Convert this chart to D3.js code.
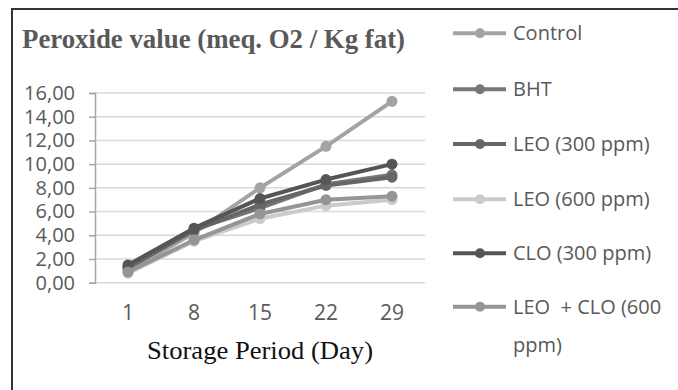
<!DOCTYPE html>
<html><head><meta charset="utf-8">
<script src="https://cdn.jsdelivr.net/npm/d3@7"></script>
<style>body{margin:0;background:#fff}svg{display:block}</style>
</head><body>
<svg id="c" width="678" height="390"></svg>
<script>
const days = ["1","8","15","22","29"];
const seriesNames = ["Control","BHT","LEO (300 ppm)","LEO (600 ppm)","CLO (300 ppm)","LEO  + CLO (600 ppm)"];
const control = [1.0, 4.2, 8.0, 11.5, 15.3];
const bht     = [1.2, 4.5, 6.3, 8.3, 9.1];
const leo300  = [1.3, 4.4, 6.6, 8.2, 8.9];
const leo600  = [0.8, 3.5, 5.4, 6.5, 7.0];
const clo300  = [1.5, 4.6, 7.1, 8.7, 10.0];
const leoclo  = [0.9, 3.6, 5.8, 7.0, 7.3];
const yTicks = [0,2,4,6,8,10,12,14,16];
const colors = ["#a3a3a3","#777777","#666666","#cbcbcb","#555555","#959595"];

const allSeries = [control,bht,leo300,leo600,clo300,leoclo];
const svg = d3.select("#c");

// border
svg.append("path").attr("d","M12,390V9H678").attr("fill","none").attr("stroke","#333").attr("stroke-width",2);

const x = d3.scaleBand().domain(days).range([95,425]);
const y = d3.scaleLinear().domain([0,16]).range([282.7,93]);

// gridlines
svg.append("g").selectAll("line").data(yTicks).join("line")
  .attr("x1",95).attr("x2",425).attr("y1",d=>y(d)).attr("y2",d=>y(d))
  .attr("stroke","#d9d9d9").attr("stroke-width",1.5);

// y axis
const yAxis = svg.append("g").attr("transform","translate(95,0)")
  .call(d3.axisLeft(y).tickValues(yTicks).tickSize(6).tickPadding(14)
    .tickFormat(d=>d3.format(".2f")(d).replace(".",",")));
yAxis.select(".domain").attr("stroke","#a6a6a6").attr("stroke-width",1.5);
yAxis.selectAll(".tick line").attr("stroke","#a6a6a6").attr("stroke-width",1.5);
yAxis.selectAll("text").attr("font-family","'Open Sans'").attr("font-size",20).attr("fill","#595959");

// x axis labels
const xAxis = svg.append("g").attr("transform","translate(0,283)")
  .call(d3.axisBottom(x).tickSize(0).tickPadding(22));
xAxis.select(".domain").remove();
xAxis.selectAll("text").attr("font-family","'Open Sans'").attr("font-size",21).attr("fill","#595959");

// lines
const line = d3.line().x((d,i)=>x(days[i])+x.bandwidth()/2).y(d=>y(d));
allSeries.forEach((s,k)=>{
  const g = svg.append("g");
  g.append("path").datum(s).attr("d",line).attr("fill","none")
    .attr("stroke",colors[k]).attr("stroke-width",4).attr("stroke-linejoin","round");
  g.selectAll("circle").data(s).join("circle")
    .attr("cx",(d,i)=>x(days[i])+x.bandwidth()/2).attr("cy",d=>y(d)).attr("r",5.5)
    .attr("fill",colors[k]);
});

// title
svg.append("text").attr("x",22).attr("y",48)
  .attr("font-family","'Liberation Serif'").attr("font-weight","bold").attr("font-size",28)
  .attr("fill","#595959").attr("textLength",383).attr("lengthAdjust","spacingAndGlyphs")
  .text("Peroxide value (meq. O2 / Kg fat)");

// x axis title
svg.append("text").attr("x",260).attr("y",359).attr("text-anchor","middle")
  .attr("font-family","'Liberation Serif'").attr("font-size",25).attr("fill","#111")
  .attr("textLength",226).attr("lengthAdjust","spacingAndGlyphs")
  .text("Storage Period (Day)");

// legend
const legY = [33.3,89.3,144,199.3,253.3,306.7];
seriesNames.forEach((n,k)=>{
  const g = svg.append("g");
  g.append("line").attr("x1",453).attr("x2",506).attr("y1",legY[k]).attr("y2",legY[k])
    .attr("stroke",colors[k]).attr("stroke-width",4);
  g.append("circle").attr("cx",480).attr("cy",legY[k]).attr("r",5).attr("fill",colors[k]);
  const t = g.append("text").attr("x",513).attr("y",legY[k]+7).style("white-space","pre")
    .attr("font-family","'Open Sans'").attr("font-size",20).attr("fill","#595959");
  if (k===5) {
    t.append("tspan").attr("x",513).text("LEO  + CLO (600");
    t.append("tspan").attr("x",513).attr("dy",38).text("ppm)");
  } else t.text(n);
});
</script>
</body></html>
